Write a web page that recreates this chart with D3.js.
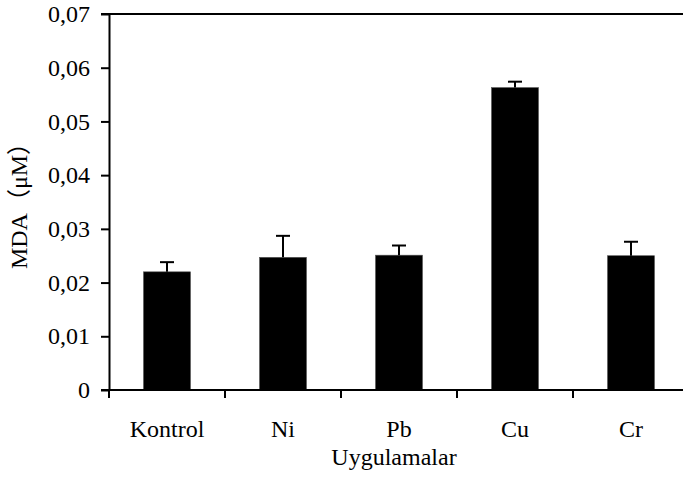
<html>
<head>
<meta charset="utf-8">
<title>MDA</title>
<style>
  body { margin: 0; background: #fff; }
  .axis path, .axis line { fill: none; stroke: #000; stroke-width: 2; }
  .axis text { font-family: "Liberation Serif", "Times New Roman", serif; font-size: 24px; fill: #000; }
  .label { font-family: "Liberation Serif", "Times New Roman", "Noto Sans CJK SC", serif; font-size: 24px; fill: #000; }
</style>
</head>
<body>
<script src="https://cdn.jsdelivr.net/npm/d3@7/dist/d3.min.js"></script>
<script>
  var categories = ["Kontrol", "Ni", "Pb", "Cu", "Cr"];
  var values = [0.0220, 0.0247, 0.0251, 0.0563, 0.0250];
  var errors = [0.0018, 0.0040, 0.0018, 0.0011, 0.0026];
  var yTicks = [0, 0.01, 0.02, 0.03, 0.04, 0.05, 0.06, 0.07];

  var width = 683, height = 478;
  var plotLeft = 109, plotTop = 14, plotBottom = 390;

  var svg = d3.select("body").append("svg")
      .attr("width", width)
      .attr("height", height);

  var x = d3.scaleBand()
      .domain(categories)
      .range([plotLeft, plotLeft + 5 * 116])
      .paddingInner(0.595)
      .paddingOuter(0.2975);

  var y = d3.scaleLinear()
      .domain([0, 0.07])
      .range([plotBottom, plotTop]);

  var fmt = function(d) { return d === 0 ? "0" : d3.format(".2f")(d).replace(".", ","); };

  // bars
  svg.selectAll("rect.bar")
      .data(values)
      .enter().append("rect")
      .attr("class", "bar")
      .attr("x", function(d, i) { return x(categories[i]); })
      .attr("y", function(d) { return y(d); })
      .attr("width", x.bandwidth())
      .attr("height", function(d) { return y(0) - y(d); })
      .attr("fill", "#000")
      .attr("stroke", "#555")
      .attr("stroke-width", 0.6);

  // error bars (upper only)
  var err = svg.selectAll("g.err")
      .data(values)
      .enter().append("g")
      .attr("class", "err")
      .attr("stroke", "#000")
      .attr("stroke-width", 2);
  err.append("line")
      .attr("x1", function(d, i) { return x(categories[i]) + x.bandwidth() / 2; })
      .attr("x2", function(d, i) { return x(categories[i]) + x.bandwidth() / 2; })
      .attr("y1", function(d) { return y(d); })
      .attr("y2", function(d, i) { return y(d + errors[i]); });
  err.append("line")
      .attr("x1", function(d, i) { return x(categories[i]) + x.bandwidth() / 2 - 7; })
      .attr("x2", function(d, i) { return x(categories[i]) + x.bandwidth() / 2 + 7; })
      .attr("y1", function(d, i) { return y(d + errors[i]); })
      .attr("y2", function(d, i) { return y(d + errors[i]); });

  // top frame line
  svg.append("line")
      .attr("x1", plotLeft - 8).attr("x2", width)
      .attr("y1", y(0.07)).attr("y2", y(0.07))
      .attr("stroke", "#000").attr("stroke-width", 2);

  // y axis
  svg.append("g")
      .attr("class", "axis")
      .attr("transform", "translate(" + plotLeft + ",0)")
      .call(d3.axisLeft(y).tickValues(yTicks).tickFormat(fmt).tickSize(8).tickSizeOuter(0).tickPadding(11));

  // x axis with labels centred in bands, ticks at band boundaries
  var xAxis = svg.append("g")
      .attr("class", "axis")
      .attr("transform", "translate(0," + plotBottom + ")")
      .call(d3.axisBottom(x).tickSize(0).tickSizeOuter(0));
  xAxis.select(".domain").attr("d", "M" + (plotLeft - 8) + ",0H" + (width + 20));
  xAxis.selectAll("text").attr("y", 30);

  var bounds = [x.range()[0]].concat(categories.map(function(c) { return x(c) + x.bandwidth() / 2 + x.step() / 2; }));
  xAxis.selectAll("line.bound")
      .data(bounds)
      .enter().append("line")
      .attr("class", "bound")
      .attr("x1", function(d) { return d; })
      .attr("x2", function(d) { return d; })
      .attr("y1", 0).attr("y2", 8);

  // axis titles
  svg.append("text")
      .attr("class", "label")
      .attr("x", (x.range()[0] + x.range()[1]) / 2 - 5)
      .attr("y", 465)
      .attr("text-anchor", "middle")
      .text("Uygulamalar");

  svg.append("text")
      .attr("class", "label")
      .attr("transform", "translate(27,200) rotate(-90)")
      .attr("text-anchor", "middle")
      .text("MDA（μM）");
</script>
</body>
</html>
